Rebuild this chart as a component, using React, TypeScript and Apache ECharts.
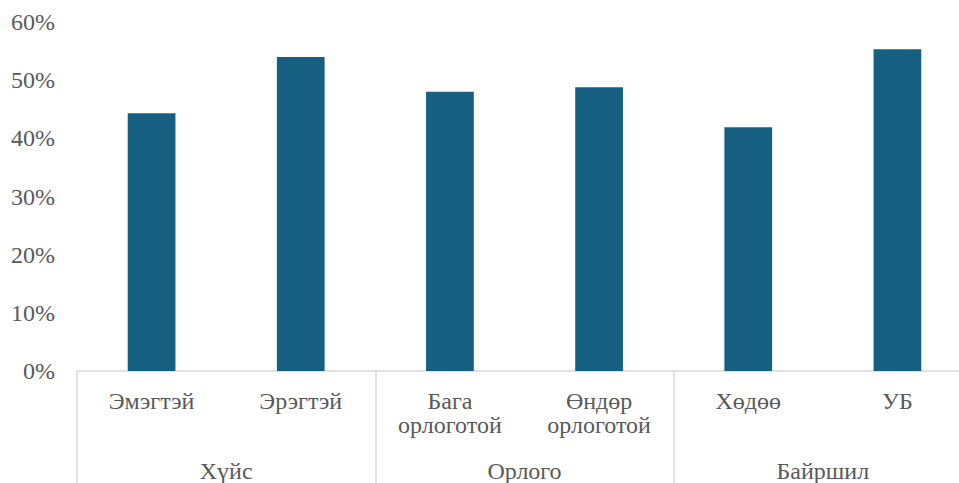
import React, { useEffect, useRef } from "react";
import * as echarts from "echarts";

const categories = ["Эмэгтэй", "Эрэгтэй", "Бага\nорлоготой", "Өндөр\nорлоготой", "Хөдөө", "УБ"];
const groups = ["Хүйс", "Орлого", "Байршил"];
const values = [44.3, 54.0, 48.0, 48.8, 41.9, 55.3];
const yTicks = { min: 0, max: 60, interval: 10 };

const FONT = "Liberation Serif";
const TEXT = "#595959";
const LINE = "#D9D9D9";
const FS = 24;

export default function App() {
  const ref = useRef<HTMLDivElement>(null);
  useEffect(() => {
    if (!ref.current) return;
    const chart = echarts.init(ref.current, null, { renderer: "svg" });
    chart.setOption({
      animation: false,
      textStyle: { fontFamily: FONT, fontSize: FS, color: TEXT },
      grid: { left: 77, right: 0, top: 22, bottom: 110, containLabel: false },
      xAxis: [
        {
          type: "category",
          data: categories,
          axisLine: { show: true, lineStyle: { color: LINE, width: 1.5 } },
          axisTick: { show: false },
          axisLabel: { interval: 0, margin: 18, fontFamily: FONT, fontSize: FS, lineHeight: 24, color: TEXT },
        },
        {
          type: "category",
          data: groups,
          position: "bottom",
          axisLine: { show: false },
          axisTick: { show: true, length: 115, lineStyle: { color: LINE, width: 1.5 } },
          axisLabel: { interval: 0, margin: 88, fontFamily: FONT, fontSize: FS, lineHeight: 24, color: TEXT },
        },
      ],
      yAxis: {
        type: "value",
        min: yTicks.min,
        max: yTicks.max,
        interval: yTicks.interval,
        splitLine: { show: false },
        axisLine: { show: false },
        axisTick: { show: false },
        axisLabel: { margin: 22, fontFamily: FONT, fontSize: FS, color: TEXT, formatter: "{value}%" },
      },
      series: [
        { type: "bar", xAxisIndex: 0, data: values, barWidth: "32%", itemStyle: { color: "#175F80" } },
      ],
    });
    return () => chart.dispose();
  }, []);
  return (
    <div style={{ position: "absolute", left: 0, top: 0, width: 959, height: 483, overflow: "hidden" }}>
      <div ref={ref} style={{ width: 972, height: 483 }} />
    </div>
  );
}
